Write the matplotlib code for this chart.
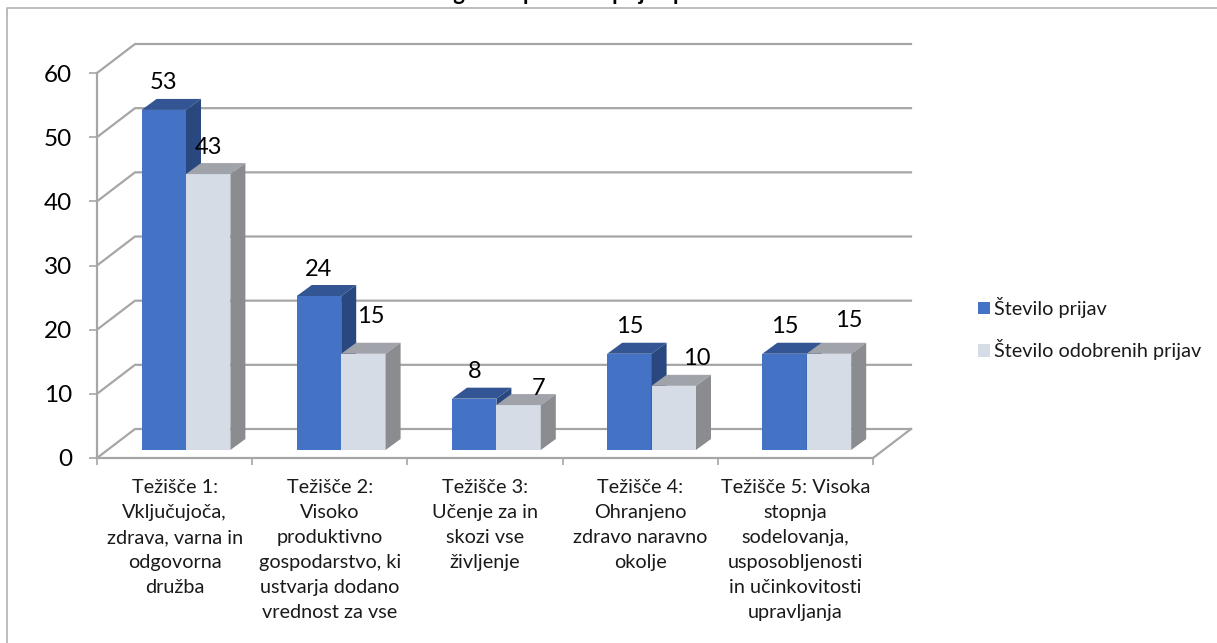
import matplotlib
matplotlib.use("Agg")
import matplotlib.pyplot as plt
from matplotlib.lines import Line2D
from matplotlib.patches import Patch, Polygon

plt.rcParams["font.family"] = ["Lato", "DejaVu Sans"]

naslov = "Graf 1: Pregled uspešnosti prijav po težiščih"
kategorije = [
    "Težišče 1:\nVključujoča,\nzdrava, varna in\nodgovorna\ndružba",
    "Težišče 2:\nVisoko\nproduktivno\ngospodarstvo, ki\nustvarja dodano\nvrednost za vse",
    "Težišče 3:\nUčenje za in\nskozi vse\nživljenje",
    "Težišče 4:\nOhranjeno\nzdravo naravno\nokolje",
    "Težišče 5: Visoka\nstopnja\nsodelovanja,\nusposobljenosti\nin učinkovitosti\nupravljanja",
]
prijave = [53, 24, 8, 15, 15]
odobrene = [43, 15, 7, 10, 15]
y_ticks = [0, 10, 20, 30, 40, 50, 60]

# pomik oznak od sredine vrha stolpca, v pikslih
pomik_prijave = [(0, 27), (0, 27), (0, 27), (0, 27), (0, 27)]
pomik_odobrene = [(0, 27), (7, 37), (20, 17), (23, 27), (20, 33)]

W, H = 1217, 643
fig = plt.figure(figsize=(W / 100, H / 100), dpi=100)
fig.patch.set_facecolor("white")

# okvir os v pikslih slike
x0, x1, y0, y1 = 97, 873, 458, 73
ax = fig.add_axes([x0 / W, 1 - y0 / H, (x1 - x0) / W, (y0 - y1) / H])
ax.set_xlim(0, 5)
ax.set_ylim(0, 60)
ax.patch.set_alpha(0)

px_x = 5 / (x1 - x0)
px_y = 60 / (y0 - y1)

siva = "#A6A6A6"

# globina stene in stolpcev
zid_x, zid_y = 38 * px_x, 29 * px_y
sir = 44.4 * px_x
rob = 44.6 * px_x
glob_x, glob_y = 15 * px_x, 11 * px_y
tla = 8 * px_y


def stolpec(x, v, sprednja, zgornja, stranska, z):
    ax.bar(x, v, sir, bottom=tla, align="edge", color=sprednja, zorder=z, clip_on=False)
    vrh = v + tla
    ax.add_patch(Polygon(
        [(x, vrh), (x + glob_x, vrh + glob_y), (x + sir + glob_x, vrh + glob_y), (x + sir, vrh)],
        closed=True, facecolor=zgornja, edgecolor="none", zorder=z, clip_on=False))
    ax.add_patch(Polygon(
        [(x + sir, tla), (x + sir + glob_x, tla + glob_y), (x + sir + glob_x, vrh + glob_y), (x + sir, vrh)],
        closed=True, facecolor=stranska, edgecolor="none", zorder=z, clip_on=False))


# mreža: zadnja stena in diagonale
for t in y_ticks:
    ax.plot([0, zid_x, 5 + zid_x], [t, t + zid_y, t + zid_y], color=siva, lw=1.6,
            clip_on=False, zorder=1, solid_joinstyle="miter")
ax.plot([5, 5 + zid_x], [0, zid_y], color=siva, lw=1.6, clip_on=False, zorder=1)

z = 3
for i in range(len(kategorije)):
    stolpec(i + rob, prijave[i], "#4472C4", "#335593", "#2A4880", z)
    stolpec(i + rob + sir, odobrene[i], "#D6DCE5", "#A0A3A9", "#8A8C90", z + 1)
    z += 2

    for v, xs, (dx, dy) in [
        (prijave[i], i + rob, pomik_prijave[i]),
        (odobrene[i], i + rob + sir, pomik_odobrene[i]),
    ]:
        ax.text(xs + sir / 2 + dx * px_x, v + tla + dy * px_y, str(v), ha="center", va="center",
                fontsize=17, color="black", zorder=30, clip_on=False)

# osi
ax.spines["top"].set_visible(False)
ax.spines["right"].set_visible(False)
for s in ["left", "bottom"]:
    ax.spines[s].set_color(siva)
    ax.spines[s].set_linewidth(1.6)
ax.set_yticks(y_ticks)
ax.set_yticklabels([str(t) for t in y_ticks], fontsize=17.5, color="black")
ax.tick_params(axis="y", length=6, width=1.2, color=siva, pad=12)
ax.set_xticks(range(6))
ax.set_xticklabels([])
ax.tick_params(axis="x", which="major", length=5, width=1.2, color=siva)
ax.set_xticks([i + 0.5 for i in range(5)], minor=True)
ax.set_xticklabels(kategorije, minor=True, fontsize=14.3, color="#1a1a1a", linespacing=1.58, ha="center")
ax.tick_params(axis="x", which="minor", length=0, pad=15)

# legenda
roc = [Patch(facecolor="#4472C4"), Patch(facecolor="#D6DCE5")]
fs = 14.3
fs_px = fs * 100 / 72
fig.legend(roc, ["Število prijav", "Število odobrenih prijav"], loc="upper left",
           bbox_to_anchor=(978 / W, 1 - 297 / H), frameon=False, fontsize=fs,
           handlelength=12 / fs_px, handleheight=12 / fs_px, handletextpad=0.2,
           labelspacing=1.08, borderpad=0, borderaxespad=0, labelcolor="#1a1a1a")

# okvir grafa, odrezan na vrhu slike
okvir = "#B0B0B0"
fig.add_artist(Line2D([7 / W, 7 / W, 1], [0, 1 - 8 / H, 1 - 8 / H], color=okvir, lw=1.2))
fig.text(563 / W, 1.0, naslov, ha="center", va="baseline", fontsize=16, fontweight="bold", color="black")

fig.savefig("out.png", dpi=100)
